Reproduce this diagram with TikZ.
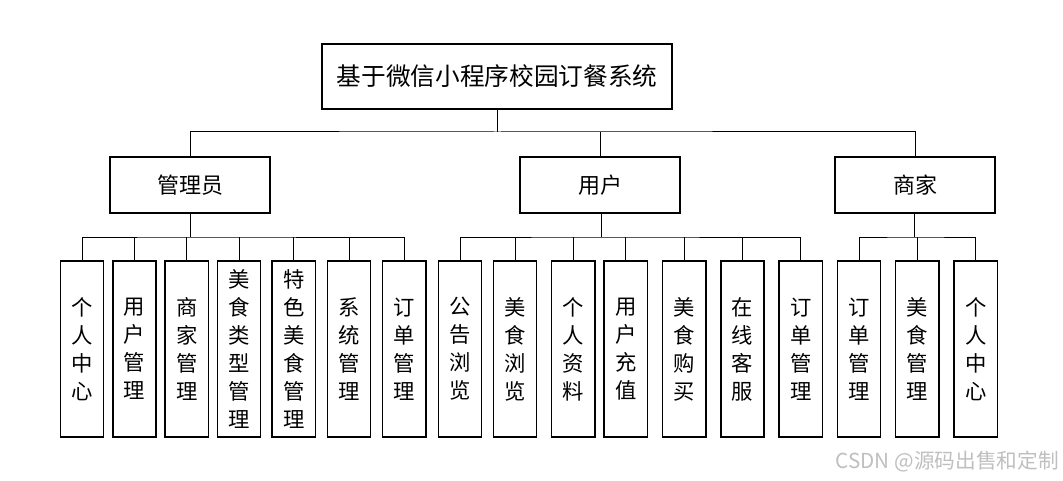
\documentclass[tikz,border=0pt]{standalone}
\usepackage{fontspec}
\newfontfamily\cjk{Noto Sans CJK SC}
\begin{document}
\begin{tikzpicture}[x=0.75pt,y=-0.75pt,
  box/.style={draw, line width=1.1pt, inner sep=0pt, align=center, font=\cjk},
  rootbox/.style={box, minimum width=262.5pt, minimum height=48.75pt, font=\cjk\fontsize{18.5}{22}\selectfont},
  midbox/.style={box, minimum width=120pt, minimum height=42pt, font=\cjk\fontsize{16.5}{20}\selectfont},
  leafbox/.style={box, minimum width=32.5pt, minimum height=132pt, font=\cjk\fontsize{16}{21}\selectfont},
  link/.style={draw, line width=0.75pt}]
\useasboundingbox (0,0) rectangle (1063,481);
\fill[white] (0,0) rectangle (1063,481);

\node[rootbox] (root) at (497,76.5) {基于微信小程序校园订餐系统};
\node[midbox] (admin) at (190,185) {管理员};
\node[midbox] (user) at (600,185) {用户};
\node[midbox] (merch) at (915,185) {商家};

\coordinate (bus0) at (497,132);
\coordinate (busA) at (190,237);
\coordinate (busU) at (601,237);
\coordinate (busM) at (914,237);

% admin leaves
\node[leafbox] (a1) at (82,349) {个\\人\\中\\心};
\node[leafbox] (a2) at (134.5,349) {用\\户\\管\\理};
\node[leafbox] (a3) at (186.7,349) {商\\家\\管\\理};
\node[leafbox] (a4) at (239,349) {美\\食\\类\\型\\管\\理};
\node[leafbox] (a5) at (293.8,349) {特\\色\\美\\食\\管\\理};
\node[leafbox] (a6) at (349,349) {系\\统\\管\\理};
\node[leafbox] (a7) at (404.2,349) {订\\单\\管\\理};
% user leaves
\node[leafbox] (u1) at (460,349) {公\\告\\浏\\览};
\node[leafbox] (u2) at (515,349) {美\\食\\浏\\览};
\node[leafbox] (u3) at (573.4,349) {个\\人\\资\\料};
\node[leafbox] (u4) at (625.7,349) {用\\户\\充\\值};
\node[leafbox] (u5) at (684.2,349) {美\\食\\购\\买};
\node[leafbox] (u6) at (742.5,349) {在\\线\\客\\服};
\node[leafbox] (u7) at (800.7,349) {订\\单\\管\\理};
% merchant leaves
\node[leafbox] (m1) at (859,349) {订\\单\\管\\理};
\node[leafbox] (m2) at (917.3,349) {美\\食\\管\\理};
\node[leafbox] (m3) at (975.7,349) {个\\人\\中\\心};

% level 1 connectors
\draw[link] (root.south) -- (bus0);
\draw[link] (admin.north) |- (bus0) -| (merch.north);
\draw[link] (user.north) -- (user.north |- bus0);

% admin connectors
\draw[link] (admin.south) -- (busA);
\draw[link] (a1.north) |- (busA) -| (a7.north);
\foreach \n in {a2,a3,a4,a5,a6} \draw[link] (\n.north) -- (\n.north |- busA);

% user connectors
\draw[link] (user.south -| busU) -- (busU);
\draw[link] (u1.north) |- (busU) -| (u7.north);
\foreach \n in {u2,u3,u4,u5,u6} \draw[link] (\n.north) -- (\n.north |- busU);

% merchant connectors
\draw[link] (merch.south -| busM) -- (busM);
\draw[link] (m1.north) |- (busM) -| (m3.north);
\draw[link] (m2.north) -- (m2.north |- busM);

\node[anchor=east, text=black!25, inner sep=0pt, font=\cjk\fontsize{15.5}{17}\selectfont] (wm) at (1059,462) {CSDN @源码出售和定制};
\end{tikzpicture}
\end{document}
